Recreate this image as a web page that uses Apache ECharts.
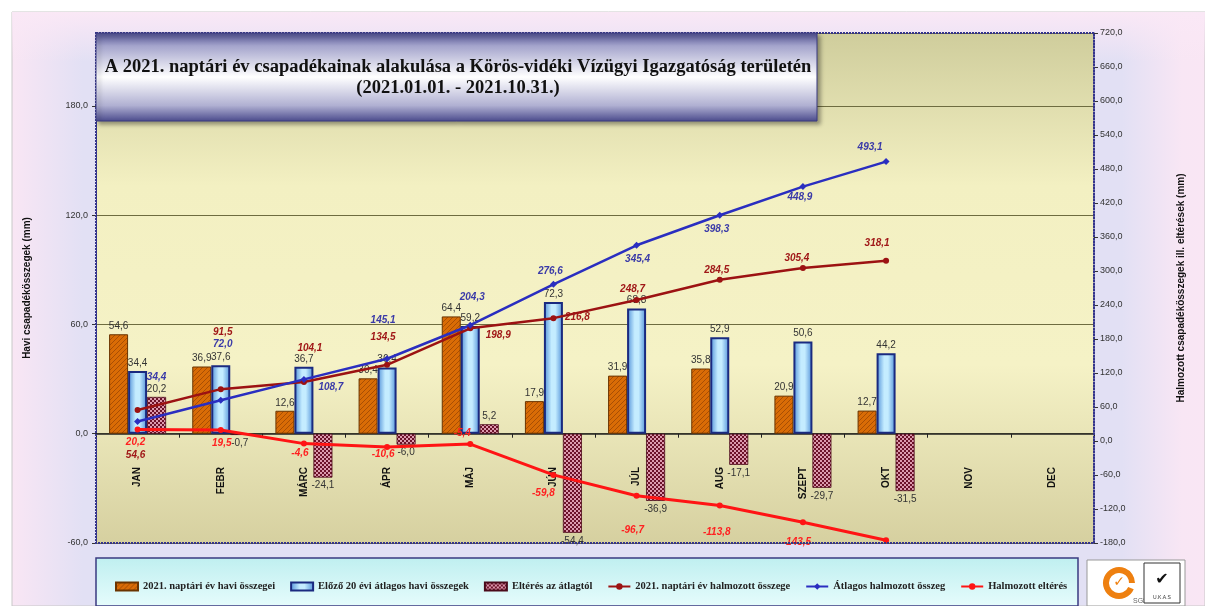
<!DOCTYPE html>
<html>
<head>
<meta charset="utf-8">
<script src="https://cdn.jsdelivr.net/npm/echarts@6/dist/echarts.min.js"></script>
<style>
html, body { margin: 0; padding: 0; background: #fff; }
#csapadek { width: 1205px; height: 606px; }
</style>
</head>
<body>
<div id="csapadek"></div>
<script>
// Adatok
const honapok = ['JAN', 'FEBR', 'MÁRC', 'ÁPR', 'MÁJ', 'JÚN', 'JÚL', 'AUG', 'SZEPT', 'OKT', 'NOV', 'DEC'];
const havi2021 = [54.6, 36.9, 12.6, 30.4, 64.4, 17.9, 31.9, 35.8, 20.9, 12.7];
const atlag20 = [34.4, 37.6, 36.7, 36.4, 59.2, 72.3, 68.8, 52.9, 50.6, 44.2];
const elteres = [20.2, -0.7, -24.1, -6.0, 5.2, -54.4, -36.9, -17.1, -29.7, -31.5];
const halmozott2021 = [54.6, 91.5, 104.1, 134.5, 198.9, 216.8, 248.7, 284.5, 305.4, 318.1];
const halmozottAtlag = [34.4, 72.0, 108.7, 145.1, 204.3, 276.6, 345.4, 398.3, 448.9, 493.1];
const halmozottElteres = [20.2, 19.5, -4.6, -10.6, -5.4, -59.8, -96.7, -113.8, -143.5, -175.0];
const balTengely = [-60, 0, 60, 120, 180];
const balMax = 220;
const jobbTengely = [-180, -120, -60, 0, 60, 120, 180, 240, 300, 360, 420, 480, 540, 600, 660, 720];

// Címke eltolások a pontokhoz képest (csak megjelenés)
const eltolas2021 = [[-2, 45], [2, -57], [6, -34], [-4, -28], [28, 7], [24, -1], [-4, -11], [-3, -10], [-6, -10], [-9, -17]];
const eltolasAtlag = [[19, -44], [2, -56], [27, 8], [-4, -39], [2, -28], [-3, -13], [1, 14], [-3, 14], [-3, 11], [-16, -14]];
const eltolasElteres = [[-2, 13], [1, 13], [-4, 10], [-4, 7], [-8, -11], [-10, 18], [-4, 34], [-3, 27], [-6, 20], null];

const fmt = v => v.toFixed(1).replace('.', ',');

// Mintázatok
function csikos() {
    const c = document.createElement('canvas');
    c.width = 5; c.height = 5;
    const g = c.getContext('2d');
    g.fillStyle = '#d96c06';
    g.fillRect(0, 0, 5, 5);
    g.strokeStyle = '#a84e04';
    g.lineWidth = 1;
    g.beginPath();
    g.moveTo(0, 5); g.lineTo(5, 0);
    g.moveTo(-1, 1); g.lineTo(1, -1);
    g.moveTo(4, 6); g.lineTo(6, 4);
    g.stroke();
    return c;
}
function kockas() {
    const c = document.createElement('canvas');
    c.width = 4; c.height = 4;
    const g = c.getContext('2d');
    g.fillStyle = '#6c1229';
    g.fillRect(0, 0, 4, 4);
    g.fillStyle = '#dc9aae';
    g.fillRect(0, 0, 2, 2);
    g.fillRect(2, 2, 2, 2);
    return c;
}

const pontCimkek = (adat, eltolas) => adat.map((v, i) => ({
    value: v,
    label: eltolas[i] ? { show: true, position: 'inside', offset: eltolas[i] } : { show: false }
}));

const vonalCimke = szin => ({
    show: true,
    formatter: p => fmt(p.value),
    color: szin,
    fontSize: 10,
    fontStyle: 'italic',
    fontWeight: 'bold',
    fontFamily: 'Liberation Sans'
});

const oszlopCimke = {
    show: true,
    formatter: p => fmt(p.value),
    color: '#333',
    fontSize: 10,
    fontFamily: 'Liberation Sans',
    distance: 3
};

const chart = echarts.init(document.getElementById('csapadek'), null, { renderer: 'canvas' });

const plot = { x: 96, y: 33, w: 998, h: 510 };
const nullaSor = 434 - 543; // a bal tengely 0 szintje a rács aljához képest

const option = {
    animation: false,
    backgroundColor: 'transparent',
    textStyle: { fontFamily: 'Liberation Sans' },
    graphic: [
        // háttér
        {
            type: 'rect', z: -100, silent: true,
            shape: { x: 12, y: 12, width: 1193, height: 594 },
            style: {
                fill: new echarts.graphic.LinearGradient(0, 0, 1, 0, [
                    { offset: 0, color: '#f9e6f4' },
                    { offset: 0.06, color: '#e2e0f4' },
                    { offset: 0.93, color: '#e2e0f4' },
                    { offset: 0.98, color: '#f8e6f4' },
                    { offset: 1, color: '#f9e6f4' }
                ]),
                stroke: '#c8c8c8', lineWidth: 1
            }
        },
        {
            type: 'rect', z: -99, silent: true,
            shape: { x: 12, y: 12, width: 1193, height: 50 },
            style: {
                fill: new echarts.graphic.LinearGradient(0, 0, 0, 1, [
                    { offset: 0, color: 'rgba(250,232,246,1)' },
                    { offset: 1, color: 'rgba(250,232,246,0)' }
                ])
            }
        },
        // plot keret
        {
            type: 'rect', z: 50, silent: true,
            shape: { x: plot.x, y: plot.y, width: plot.w, height: plot.h },
            style: { fill: 'none', stroke: '#34348a', lineWidth: 2, lineDash: [2, 1] }
        },
        // cím doboz
        {
            type: 'rect', z: 100, silent: true,
            shape: { x: 96, y: 33, width: 721, height: 88 },
            style: {
                fill: new echarts.graphic.LinearGradient(0, 0, 0, 1, [
                    { offset: 0, color: '#4a4a8c' },
                    { offset: 0.15, color: '#a4a4cc' },
                    { offset: 0.5, color: '#ffffff' },
                    { offset: 0.82, color: '#b0b0d2' },
                    { offset: 1, color: '#4a4a8c' }
                ]),
                stroke: '#3a3a80', lineWidth: 1,
                shadowBlur: 4, shadowOffsetX: 3, shadowOffsetY: 3, shadowColor: 'rgba(0,0,0,0.35)'
            }
        },
        {
            type: 'text', z: 101, silent: true,
            x: 458, y: 78,
            style: {
                text: 'A 2021. naptári év csapadékainak alakulása a Körös-vidéki Vízügyi Igazgatóság területén\n(2021.01.01. - 2021.10.31.)',
                align: 'center', verticalAlign: 'middle',
                font: 'bold 18.5px "Liberation Serif"', fill: '#111', lineHeight: 21
            }
        },
        // jelmagyarázat doboz
        {
            type: 'rect', z: 5, silent: true,
            shape: { x: 96, y: 558, width: 982, height: 48 },
            style: {
                fill: new echarts.graphic.LinearGradient(0, 0, 0, 1, [
                    { offset: 0, color: '#bfeff0' },
                    { offset: 1, color: '#e6fcfc' }
                ]),
                stroke: '#3a3a80', lineWidth: 1.5
            }
        },
        // logók
        {
            type: 'group', z: 5, silent: true, x: 1087, y: 560,
            children: [
                { type: 'rect', shape: { x: 0, y: 0, width: 98, height: 46 }, style: { fill: '#fff', stroke: '#999', lineWidth: 1 } },
                { type: 'arc', shape: { cx: 32, cy: 23, r: 13, startAngle: 0.4, endAngle: Math.PI * 2 }, style: { stroke: '#ee8010', lineWidth: 6, fill: 'none' } },
                { type: 'text', x: 32, y: 22, style: { text: '✓', align: 'center', verticalAlign: 'middle', font: 'bold 14px "DejaVu Sans"', fill: '#ee8010' } },
                { type: 'text', x: 46, y: 38, style: { text: 'SGS', font: '7px "Liberation Sans"', fill: '#666' } },
                { type: 'rect', shape: { x: 57, y: 3, width: 36, height: 40 }, style: { fill: '#fff', stroke: '#333', lineWidth: 1 } },
                { type: 'text', x: 75, y: 20, style: { text: '✔', align: 'center', verticalAlign: 'middle', font: 'bold 16px "DejaVu Sans"', fill: '#111' } },
                { type: 'text', x: 75, y: 35, style: { text: 'U.K.A.S', align: 'center', font: '5px "Liberation Sans"', fill: '#333' } }
            ]
        }
    ],
    legend: {
        z: 10,
        left: 110,
        top: 576,
        itemGap: 15,
        itemWidth: 22,
        itemHeight: 8,
        textStyle: { fontFamily: 'Liberation Serif', fontWeight: 'bold', fontSize: 10.5, color: '#222' },
        data: [
            { name: '2021. naptári év havi összegei', icon: 'rect' },
            { name: 'Előző 20 évi átlagos havi összegek', icon: 'rect' },
            { name: 'Eltérés az átlagtól', icon: 'rect' },
            '2021. naptári év halmozott összege',
            'Átlagos halmozott összeg',
            'Halmozott eltérés'
        ]
    },
    grid: {
        left: plot.x,
        top: plot.y,
        width: plot.w,
        height: plot.h,
        show: true,
        borderWidth: 0,
        backgroundColor: new echarts.graphic.LinearGradient(0, 0, 0, 1, [
            { offset: 0, color: '#cfcd9c' },
            { offset: 0.3, color: '#f3f0c2' },
            { offset: 0.65, color: '#f5f2c6' },
            { offset: 1, color: '#d6d0a0' }
        ])
    },
    xAxis: [
        {
            type: 'category',
            data: honapok,
            boundaryGap: true,
            axisLine: { onZero: true, lineStyle: { color: '#222', width: 1.5 } },
            axisTick: { show: true, length: 4, lineStyle: { color: '#222' } },
            axisLabel: { show: false }
        },
        {
            // hónapnevek a nulla szint alatt
            type: 'category',
            data: honapok,
            position: 'bottom',
            offset: nullaSor,
            boundaryGap: true,
            axisLine: { show: false, onZero: false },
            axisTick: { show: false },
            axisLabel: {
                show: true,
                interval: 0,
                rotate: 90,
                margin: 33,
                fontSize: 10,
                fontWeight: 'bold',
                color: '#111',
                fontFamily: 'Liberation Sans'
            }
        }
    ],
    yAxis: [
        {
            type: 'value',
            min: balTengely[0],
            max: balMax,
            interval: balTengely[1] - balTengely[0],
            position: 'left',
            name: 'Havi csapadékösszegek (mm)',
            nameLocation: 'middle',
            nameRotate: 90,
            nameGap: 64,
            nameTextStyle: { fontSize: 10, fontWeight: 'bold', color: '#111', fontFamily: 'Liberation Sans' },
            axisLine: { show: true, lineStyle: { color: '#34348a', width: 1 } },
            axisTick: { show: true, length: 4, lineStyle: { color: '#333' } },
            axisLabel: {
                showMaxLabel: false,
                formatter: v => balTengely.includes(v) ? fmt(v) : '',
                fontSize: 9, color: '#333', margin: 8
            },
            splitLine: { show: true, lineStyle: { color: '#6e6c40', width: 1.2 } }
        },
        {
            type: 'value',
            min: jobbTengely[0],
            max: jobbTengely[jobbTengely.length - 1],
            interval: jobbTengely[1] - jobbTengely[0],
            position: 'right',
            name: 'Halmozott csapadékösszegek ill. eltérések (mm)',
            nameLocation: 'middle',
            nameRotate: 90,
            nameGap: 82,
            nameTextStyle: { fontSize: 10, fontWeight: 'bold', color: '#111', fontFamily: 'Liberation Sans' },
            axisLine: { show: true, lineStyle: { color: '#34348a', width: 1.5, type: 'dashed' } },
            axisTick: { show: true, length: 4, lineStyle: { color: '#333' } },
            axisLabel: { formatter: v => fmt(v), fontSize: 9, color: '#333', margin: 6 },
            splitLine: { show: false }
        }
    ],
    series: [
        {
            name: '2021. naptári év havi összegei',
            type: 'bar',
            yAxisIndex: 0,
            barWidth: 19,
            barGap: '0%',
            itemStyle: { color: { image: csikos(), repeat: 'repeat' }, borderColor: '#6a3400', borderWidth: 1 },
            label: Object.assign({ position: 'top' }, oszlopCimke),
            data: havi2021
        },
        {
            name: 'Előző 20 évi átlagos havi összegek',
            type: 'bar',
            yAxisIndex: 0,
            barWidth: 19,
            barGap: '0%',
            itemStyle: {
                color: new echarts.graphic.LinearGradient(0, 0, 1, 0, [
                    { offset: 0, color: '#4f8fd8' },
                    { offset: 0.4, color: '#c4ecff' },
                    { offset: 0.6, color: '#c4ecff' },
                    { offset: 1, color: '#4f8fd8' }
                ]),
                borderColor: '#1a2a80',
                borderWidth: 2
            },
            label: Object.assign({ position: 'top' }, oszlopCimke),
            data: atlag20
        },
        {
            name: 'Eltérés az átlagtól',
            type: 'bar',
            yAxisIndex: 0,
            barWidth: 19,
            barGap: '0%',
            itemStyle: { color: { image: kockas(), repeat: 'repeat' }, borderColor: '#4a0a1a', borderWidth: 0.8 },
            label: oszlopCimke,
            data: elteres.map(v => ({ value: v, label: { position: v < 0 ? 'bottom' : 'top' } }))
        },
        {
            name: '2021. naptári év halmozott összege',
            type: 'line',
            yAxisIndex: 1,
            symbol: 'circle',
            symbolSize: 6,
            lineStyle: { color: '#9c1212', width: 2.5 },
            itemStyle: { color: '#9c1212' },
            label: vonalCimke('#a01818'),
            data: pontCimkek(halmozott2021, eltolas2021)
        },
        {
            name: 'Átlagos halmozott összeg',
            type: 'line',
            yAxisIndex: 1,
            symbol: 'diamond',
            symbolSize: 7,
            lineStyle: { color: '#2a2ec0', width: 2.5 },
            itemStyle: { color: '#2a2ec0' },
            label: vonalCimke('#3a3aa8'),
            data: pontCimkek(halmozottAtlag, eltolasAtlag)
        },
        {
            name: 'Halmozott eltérés',
            type: 'line',
            yAxisIndex: 1,
            symbol: 'circle',
            symbolSize: 6,
            lineStyle: { color: '#ff1414', width: 3 },
            itemStyle: { color: '#ff1414' },
            label: vonalCimke('#ff2020'),
            data: pontCimkek(halmozottElteres, eltolasElteres)
        }
    ]
};

chart.setOption(option);

window.addEventListener('resize', () => {
    chart.resize();
});
</script>
</body>
</html>
